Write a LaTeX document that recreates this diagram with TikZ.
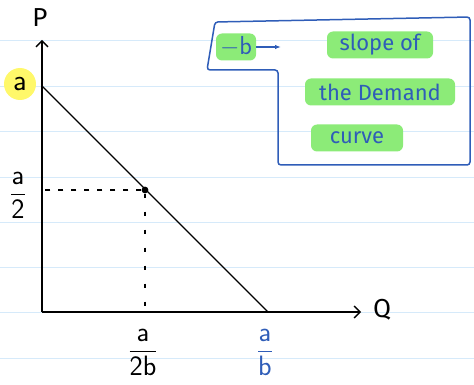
\documentclass[tikz,border=0pt]{standalone}
\usepackage{amsmath,amssymb}
\usepackage{fontspec}
\setmainfont{Fira Sans}
\usetikzlibrary{positioning,arrows.meta}
\usepackage{xcolor}
\definecolor{ruled}{HTML}{D6EAFA}
\definecolor{ink}{HTML}{2F5DB8}
\definecolor{hlgreen}{HTML}{8CEB78}
\definecolor{hlyellow}{HTML}{FFF86A}

\begin{document}
\begin{tikzpicture}[x=1pt,y=-1pt,font=\fontsize{26}{30}\selectfont,
  axis/.style={line width=1.3pt,-{Straight Barb[length=6pt,width=12pt]}},
  hlnote/.style={fill=hlgreen,text=ink,rounded corners=6pt,inner sep=2pt,minimum height=27pt,
    font=\fontsize{22}{26}\selectfont},
  frac/.style={inner sep=1pt,font=\fontsize{28}{32}\selectfont}]
\useasboundingbox (0,0) rectangle (474,385);
% ruled paper
\foreach \y in {40.5,86,131.5,177,222,267,312.5,358}
  \draw[ruled,line width=0.8pt] (0,\y) -- (474,\y);

% axes
\coordinate (O) at (42,312);
\coordinate (ptop) at (42,40);
\coordinate (qend) at (361,312);
\draw[axis] (O) -- (ptop);
\draw[axis] (O) -- (qend);
\node (plabel) at (40,18) {P};
\node (qlabel) at (382,310) {Q};

% demand line
\coordinate (aint) at (42,86);
\coordinate (bint) at (268,312);
\draw[line width=1.3pt] (aint) -- (bint);
\node[circle,fill,inner sep=2.4pt] (mid) at (145,190) {};
\draw[dashed,line width=1.1pt,dash pattern=on 5pt off 8pt] (mid) -- (mid -| O);
\draw[dashed,line width=1.1pt,dash pattern=on 4pt off 14pt] (mid) -- (mid |- O);

% axis labels
\node[fill=hlyellow,circle,inner sep=0pt,minimum size=32pt,font=\fontsize{30}{34}\selectfont] (alabel) at (20,84) {$\mathsf{a}$};
\node[frac] (halfa) at (18,195) {$\dfrac{\mathsf{a}}{\mathsf{2}}$};
\node[frac] (aover2b) at (143,352) {$\dfrac{\mathsf{a}}{\mathsf{2b}}$};
\node[frac,text=ink] (aoverb) at (265,352) {$\dfrac{\mathsf{a}}{\mathsf{b}}$};

% note box
\draw[ink,line width=1.5pt,rounded corners=3pt] (207,70) -- (215,22) -- (470,17)
  -- (470,165) -- (278,165) -- (278,70) -- cycle;
\node[hlnote,minimum width=40pt,font=\fontsize{26}{30}\selectfont] (negb) at (236,47) {$-\mathsf{b}$};
\coordinate (arrtip) at (281,47);
\draw[ink,line width=1.6pt,-{Latex[length=6pt]}] (negb) -- (arrtip);
\node[hlnote,minimum width=106pt] (slope) at (380,45) {slope of};
\node[hlnote,minimum width=150pt] (demand) at (380,92) {the Demand};
\node[hlnote,minimum width=92pt] (curve) at (357,138) {curve};
\end{tikzpicture}
\end{document}
